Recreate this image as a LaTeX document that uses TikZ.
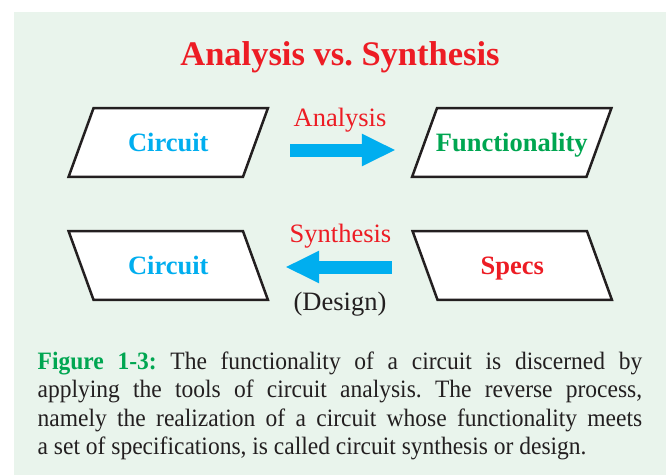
\documentclass[tikz,border=0pt]{standalone}
\usepackage{fontspec}
\setmainfont{Liberation Serif}
\newfontfamily\capfont{Liberation Serif}[FakeStretch=0.94]
\usetikzlibrary{arrows.meta,backgrounds}
\definecolor{bgc}{HTML}{E9F4EC}
\definecolor{redc}{HTML}{ED1C24}
\definecolor{cyanc}{HTML}{00AEEF}
\definecolor{greenc}{HTML}{00A651}
\definecolor{inkc}{HTML}{231F20}
\tikzset{
  pbox/.style={minimum width=174pt, minimum height=68.5pt, inner sep=0pt,
    text height=18pt, text depth=0pt, font=\fontsize{26.5}{30}\selectfont\bfseries},
  pline/.style={draw=inkc, line width=2.5pt, fill=white, line join=miter},
  lbl/.style={font=\fontsize{26.5}{30}\selectfont, inner sep=0pt, anchor=base},
  bigarrow/.style={draw=cyanc, line width=13pt, -{Triangle[length=34pt,width=30pt]}},
}
\begin{document}
\begin{tikzpicture}[x=1pt,y=-1pt]
\useasboundingbox (0,0) rectangle (667,475);
% title
\node[anchor=base, inner sep=0pt, font=\fontsize{34.5}{38}\selectfont\bfseries, text=redc] (title) at (340,65) {Analysis vs.\ Synthesis};
% boxes
\node[pbox, text=cyanc] (c1) at (168.25,142.5) {Circuit};
\node[pbox, text=greenc] (f1) at (511.75,142.5) {Functionality};
\node[pbox, text=cyanc] (c2) at (168.25,265.5) {Circuit};
\node[pbox, text=redc] (s2) at (512.25,265.5) {Specs};
% labels
\node[lbl, text=redc] (la) at (340,126) {Analysis};
\node[lbl, text=redc] (ls) at (340.5,242) {Synthesis};
\node[lbl, text=inkc] (ld) at (340,310) {(Design)};
% arrows
\draw[bigarrow] ([xshift=34.75pt,yshift=-7.5pt]c1.east) -- ([xshift=-28.75pt,yshift=-7.5pt]f1.west);
\draw[bigarrow] ([xshift=-33.25pt,yshift=-1.5pt]s2.west) -- ([xshift=29.75pt,yshift=-1.5pt]c2.east);
% caption
\node[anchor=base west, inner sep=0pt, text=inkc] (cap) at (37.5,369) {\parbox[t]{604.5pt}{\capfont\fontsize{25}{28.5}\selectfont\frenchspacing \textcolor{greenc}{\textbf{Figure 1-3:}} The functionality of a circuit is discerned by\linebreak applying the tools of circuit analysis. The reverse process,\linebreak namely the realization of a circuit whose functionality meets\linebreak a set of specifications, is called circuit synthesis or design.}};
\begin{scope}[on background layer]
\fill[bgc] (14,12) rectangle (666,475);
\draw[pline] ([xshift=12.5pt]c1.north west) -- ([xshift=12.5pt]c1.north east) -- ([xshift=-12.5pt]c1.south east) -- ([xshift=-12.5pt]c1.south west) -- cycle;
\draw[pline] ([xshift=12.5pt]f1.north west) -- ([xshift=12.5pt]f1.north east) -- ([xshift=-12.5pt]f1.south east) -- ([xshift=-12.5pt]f1.south west) -- cycle;
\draw[pline] ([xshift=-12.5pt]c2.north west) -- ([xshift=-12.5pt]c2.north east) -- ([xshift=12.5pt]c2.south east) -- ([xshift=12.5pt]c2.south west) -- cycle;
\draw[pline] ([xshift=-12.5pt]s2.north west) -- ([xshift=-12.5pt]s2.north east) -- ([xshift=12.5pt]s2.south east) -- ([xshift=12.5pt]s2.south west) -- cycle;
\end{scope}
\end{tikzpicture}
\end{document}
